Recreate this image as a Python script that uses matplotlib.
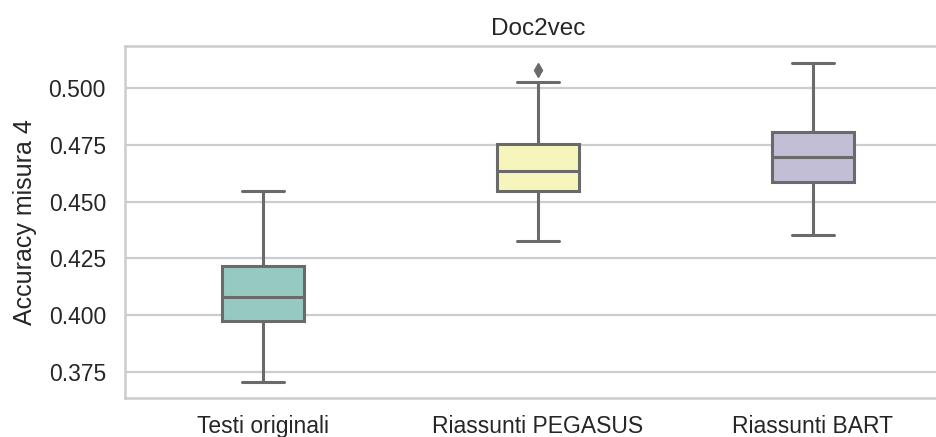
import colorsys
import matplotlib
matplotlib.use("Agg")
import matplotlib.pyplot as plt
import seaborn as sns

# box statistics
categories = ["Testi originali", "Riassunti PEGASUS", "Riassunti BART"]
whislo = [0.3706, 0.4327, 0.4353]
q1 = [0.3975, 0.4547, 0.4585]
med = [0.408, 0.4635, 0.4695]
q3 = [0.4217, 0.4754, 0.4808]
whishi = [0.4547, 0.5028, 0.5109]
fliers = [[], [0.5079], []]

sns.set_theme(style="whitegrid")
plt.rcParams['font.family'] = ['Liberation Sans', 'DejaVu Sans']

colors = [sns.desaturate(c, 0.75) for c in sns.color_palette("Set3", 3)]
lum = min(colorsys.rgb_to_hls(*c)[1] for c in colors) * 0.6
gray = (lum, lum, lum)

stats = []
for i in range(len(categories)):
    stats.append(dict(med=med[i], q1=q1[i], q3=q3[i],
                      whislo=whislo[i], whishi=whishi[i],
                      fliers=fliers[i], label=categories[i]))

fig = plt.figure(figsize=(9.36, 4.37), dpi=100)
ax = fig.add_axes([0.134, 0.0892, 0.8815, 0.8055])

lw = 2.2
bp = ax.bxp(stats, positions=range(len(categories)), widths=0.3,
            capwidths=0.15, patch_artist=True, showfliers=True,
            boxprops=dict(edgecolor=gray, linewidth=lw),
            medianprops=dict(color=gray, linewidth=lw),
            whiskerprops=dict(color=gray, linewidth=lw),
            capprops=dict(color=gray, linewidth=lw),
            flierprops=dict(marker="d", markerfacecolor=gray,
                            markeredgecolor=gray, markersize=7))
for patch, c in zip(bp["boxes"], colors):
    patch.set_facecolor(c)

ax.set_xlim(-0.5, 2.5)
ax.set_ylim(0.3636, 0.5185)
ax.set_yticks([0.375, 0.400, 0.425, 0.450, 0.475, 0.500])
ax.set_yticklabels(["0.375", "0.400", "0.425", "0.450", "0.475", "0.500"])
ax.set_xticks(range(len(categories)))
ax.set_xticklabels(categories)
ax.tick_params(labelsize=16.5, colors="#262626", length=0)
ax.tick_params(axis="y", pad=14)
ax.tick_params(axis="x", pad=12)
ax.xaxis.grid(False)
ax.yaxis.grid(True, color="0.8", linewidth=1.6)
for s in ax.spines.values():
    s.set_color("0.8")
    s.set_linewidth(1.8)
ax.set_ylabel("Accuracy misura 4", fontsize=18, color="#262626", labelpad=8)
ax.set_title("Doc2vec", fontsize=17.5, color="#262626", pad=8)

fig.savefig("out.png", dpi=100)
